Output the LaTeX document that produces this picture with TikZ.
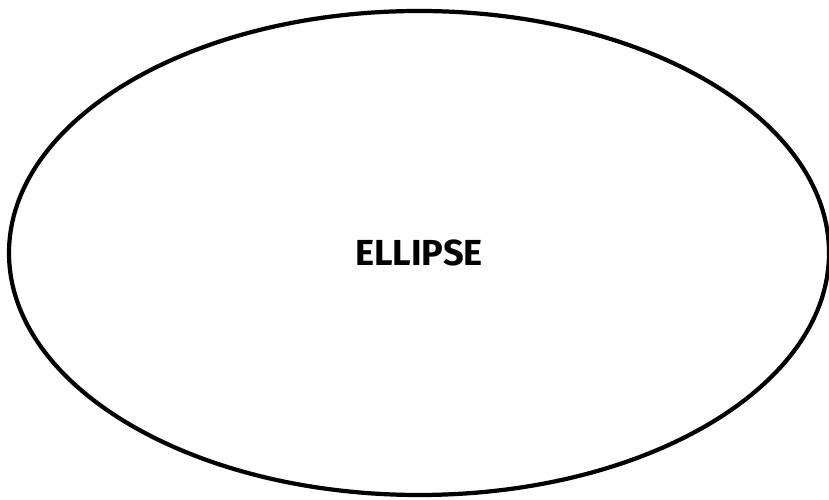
\documentclass[tikz,border=0pt]{standalone}
\usepackage{fontspec}
\setmainfont{Fira Sans}
\usetikzlibrary{shapes.geometric}
\begin{document}
\begin{tikzpicture}
        % Marco
        \useasboundingbox (0,0) rectangle (8.29,5.00);
        
        % Elipse
        \node[ellipse, draw, line width=1.2pt, minimum width=8.2cm, minimum height=4.84cm,
              inner sep=0pt, font=\bfseries\fontsize{10.3}{12}\selectfont] (elipse) at (4.19,2.47) {ELLIPSE};
    \end{tikzpicture}
\end{document}
